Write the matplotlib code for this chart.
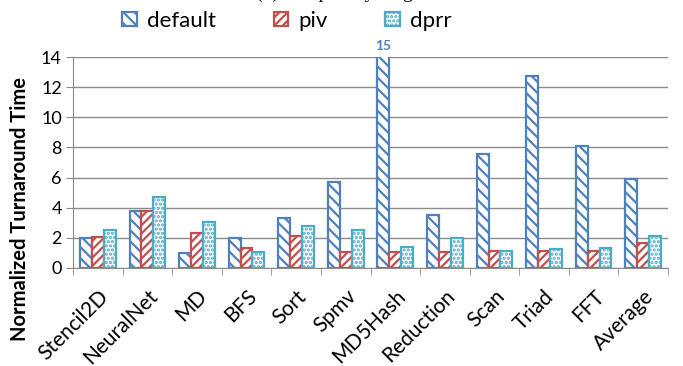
import matplotlib.pyplot as plt
import numpy as np

plt.rcParams['font.family'] = ['Lato', 'DejaVu Sans']
plt.rcParams['hatch.linewidth'] = 1.6

categories = ['Stencil2D', 'NeuralNet', 'MD', 'BFS', 'Sort', 'Spmv', 'MD5Hash',
              'Reduction', 'Scan', 'Triad', 'FFT', 'Average']
default = [2.0, 3.8, 1.0, 2.0, 3.3, 5.7, 15.0, 3.5, 7.55, 12.75, 8.1, 5.9]
piv = [2.05, 3.75, 2.3, 1.3, 2.1, 1.05, 1.05, 1.08, 1.1, 1.1, 1.1, 1.63]
dprr = [2.55, 4.7, 3.05, 1.08, 2.8, 2.55, 1.38, 1.98, 1.1, 1.25, 1.32, 2.15]
series = [('default', default, '#4F81BD', '\\\\\\'),
          ('piv', piv, '#C0504D', '////'),
          ('dprr', dprr, '#4BACC6', '....')]

fig = plt.figure(figsize=(6.83, 3.66), dpi=100)
ax = fig.add_axes([73 / 683, 1 - 268 / 366, (668 - 73) / 683, (268 - 57) / 366])

x = np.arange(len(categories))
w = 0.24
for i, (name, vals, col, hatch) in enumerate(series):
    ax.bar(x + (i - 1) * w, vals, w, facecolor='white', edgecolor=col,
           hatch=hatch, linewidth=1.6, label=name, zorder=3)

# value label for the clipped bar
ax.text(x[6] - w, 14.3, '15', color='#4F81BD', fontweight='bold',
        fontsize=10, ha='center', va='bottom')

ax.set_ylim(0, 14)
ax.set_xlim(-0.5, len(categories) - 0.5)
ax.set_yticks(np.arange(0, 15, 2))
ax.yaxis.grid(True, color='#8c8c8c', linewidth=1.0, zorder=0)
ax.set_axisbelow(True)
ax.set_xticks(x)
ax.set_xticklabels(categories, rotation=45, ha='right', rotation_mode='anchor',
                   fontsize=15)
ax.tick_params(axis='x', length=0, pad=13)
ax.set_xticks(np.arange(-0.5, len(categories)), minor=True)
ax.tick_params(axis='x', which='minor', length=5, color='#8c8c8c')
ax.tick_params(axis='y', labelsize=13, length=5, color='#8c8c8c', pad=3)
for s in ['top', 'right']:
    ax.spines[s].set_visible(False)
for s in ['left', 'bottom']:
    ax.spines[s].set_color('#8c8c8c')
ax.set_ylabel('Normalized Turnaround Time', fontweight='bold', fontsize=14.5)
ax.yaxis.set_label_coords(-0.073, 0.28)

fig.legend(loc='upper left', bbox_to_anchor=(0.15, 1.025), ncol=3, frameon=False,
           fontsize=16, handlelength=0.65, handleheight=0.65, columnspacing=2.6,
           handletextpad=0.45)
fig.text(0.5, 1.018, '(b) Samples by length', ha='center', va='center',
         fontsize=14, family='Liberation Serif')

fig.savefig('out.png', dpi=100)
